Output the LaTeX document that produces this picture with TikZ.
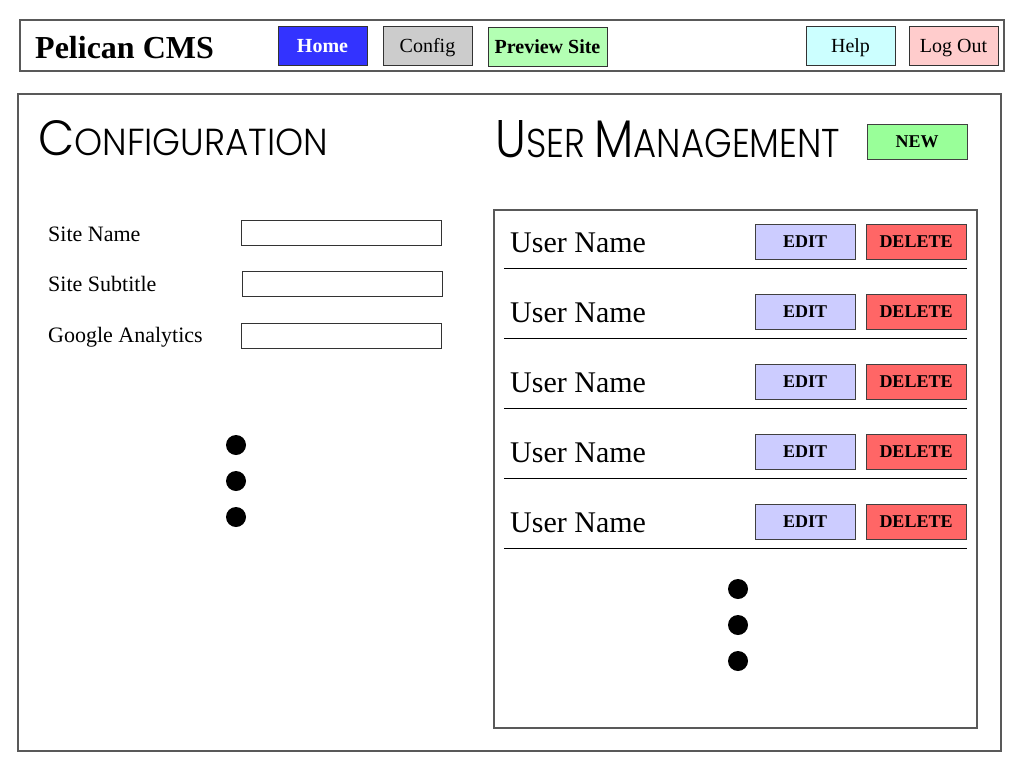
\documentclass[tikz,border=0pt]{standalone}
\usepackage{fontspec}
\usepackage{graphicx}
\setmainfont{Liberation Serif}
\newfontfamily\hand{Poppins}[UprightFont={* Light}]
\definecolor{homeblue}{HTML}{3333FF}
\definecolor{cfggray}{HTML}{CCCCCC}
\definecolor{prevgreen}{HTML}{B3FFB3}
\definecolor{helpcyan}{HTML}{CCFFFF}
\definecolor{logpink}{HTML}{FFCCCC}
\definecolor{newgreen}{HTML}{99FF99}
\definecolor{editblue}{HTML}{CCCCFF}
\definecolor{delred}{HTML}{FF6666}
\tikzset{
  frame/.style={draw=black!65, line width=1.2pt},
  btn/.style={draw=black!80, line width=0.9pt, inner sep=0pt, minimum width=89pt, minimum height=39pt, text height=13.2pt, text depth=0pt, font=\fontsize{20}{24}\selectfont},
  smallbtn/.style={draw=black!75, line width=0.9pt, inner sep=0pt, minimum width=100pt, minimum height=35pt, text height=12.2pt, text depth=0pt, font=\fontsize{18}{22}\selectfont\bfseries},
  lbl/.style={anchor=west, inner sep=0pt, font=\fontsize{22}{26}\selectfont},
  inbox/.style={draw=black!80, line width=0.8pt, inner sep=0pt, minimum width=200pt, minimum height=25pt},
  dot/.style={circle, fill=black, inner sep=0pt, minimum size=20pt},
  uname/.style={anchor=west, inner sep=0pt, font=\fontsize{30}{34}\selectfont},
  rowline/.style={draw=black, line width=1pt}
}
\begin{document}
\begin{tikzpicture}[x=1pt, y=-1pt]
\useasboundingbox (0,0) rectangle (1024,768);
% header
\node[frame, minimum width=984pt, minimum height=51pt, inner sep=0pt] (header) at (512,45.5) {};
\node[anchor=base west, inner sep=0pt, font=\fontsize{32}{36}\selectfont\bfseries] (title) at (35,59) {Pelican CMS};
\node[btn, fill=homeblue, text=white, font=\fontsize{20}{24}\selectfont\bfseries] (home) at (322.5,45.5) {Home};
\node[btn, fill=cfggray] (config) at (427.5,45.5) {Config};
\node[btn, fill=prevgreen, minimum width=119pt, font=\fontsize{20}{24}\selectfont\bfseries] (preview) at (547.5,46.5) {Preview Site};
\node[btn, fill=helpcyan] (help) at (850.5,45.5) {Help};
\node[btn, fill=logpink] (logout) at (953.5,45.5) {Log Out};
% main frame
\node[frame, minimum width=983pt, minimum height=657pt, inner sep=0pt] (main) at (509.5,422.5) {};
% headings
\node[anchor=base west, inner sep=0pt] (confhead) at (38,155) {\resizebox{290pt}{35pt}{\hand\fontsize{50}{50}\selectfont C\fontsize{38}{38}\selectfont ONFIGURATION}};
\node[anchor=base west, inner sep=0pt] (userhead) at (495,157) {\resizebox{345pt}{37pt}{\hand\fontsize{50}{50}\selectfont U\fontsize{38}{38}\selectfont SER \fontsize{50}{50}\selectfont M\fontsize{38}{38}\selectfont ANAGEMENT}};
\node[smallbtn, fill=newgreen] (new) at (917,141.5) {NEW};
% config form
\node[lbl] (l1) at (48,234) {Site Name};
\node[lbl] (l2) at (48,284) {Site Subtitle};
\node[lbl] (l3) at (48,337) {Google Analytics};
\node[inbox] (i1) at (341,233) {};
\node[inbox] (i2) at (342,283.5) {};
\node[inbox] (i3) at (341,336) {};
\node[dot] (d1) at (236,445) {};
\node[dot] (d2) at (236,481) {};
\node[dot] (d3) at (236,517) {};
% user list
\node[frame, minimum width=483pt, minimum height=518pt, inner sep=0pt] (list) at (735.5,469) {};
\foreach \i in {0,...,4} {
  \pgfmathsetmacro{\yy}{243+70*\i}
  \node[uname] (u\i) at (510,\yy) {User Name};
  \node[smallbtn, fill=editblue] (e\i) at (805,\yy-1.5) {EDIT};
  \node[smallbtn, fill=delred] (x\i) at (916,\yy-1.5) {DELETE};
  \coordinate (ls\i) at (504,\yy+25);
  \coordinate (le\i) at (967,\yy+25);
  \draw[rowline] (ls\i) -- (le\i);
}
\node[dot] (d4) at (738,589) {};
\node[dot] (d5) at (738,625) {};
\node[dot] (d6) at (738,661) {};
\end{tikzpicture}
\end{document}
